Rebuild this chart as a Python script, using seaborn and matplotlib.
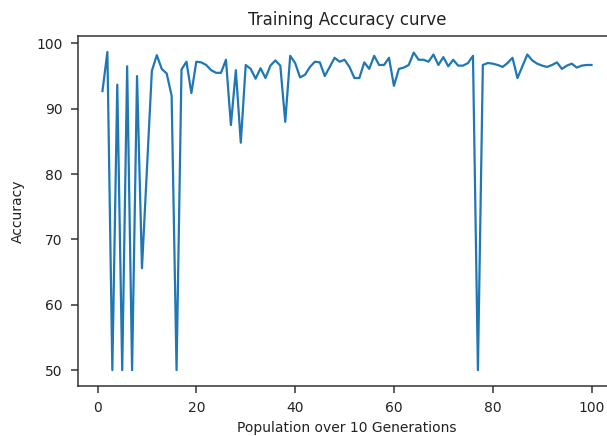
import matplotlib
matplotlib.use("Agg")
import matplotlib.pyplot as plt
import seaborn as sns
import pandas as pd

generation = list(range(1, 101))
accuracy = [
    92.7, 98.7, 50.0, 93.7, 50.0, 96.5, 50.0, 95.0, 65.6, 80.7,
    95.8, 98.2, 96.1, 95.4, 92.0, 50.0, 96.0, 97.2, 92.4, 97.2,
    97.1, 96.7, 95.9, 95.5, 95.5, 97.5, 87.5, 95.9, 84.8, 96.7,
    96.1, 94.6, 96.2, 94.7, 96.6, 97.4, 96.6, 88.0, 98.1, 97.0,
    94.8, 95.2, 96.4, 97.2, 97.1, 95.0, 96.4, 97.8, 97.2, 97.5,
    96.4, 94.7, 94.7, 97.1, 96.1, 98.1, 96.7, 96.7, 97.8, 93.5,
    96.1, 96.3, 96.7, 98.6, 97.5, 97.5, 97.2, 98.3, 96.7, 97.9,
    96.5, 97.5, 96.6, 96.6, 97.0, 98.1, 50.0, 96.7, 97.0, 96.9,
    96.7, 96.4, 97.0, 97.8, 94.7, 96.5, 98.3, 97.4, 96.9, 96.6,
    96.4, 96.7, 97.1, 96.1, 96.6, 96.9, 96.3, 96.6, 96.7, 96.7,
]

df = pd.DataFrame({"Population": generation, "Accuracy": accuracy})

W, H = 607, 436
fig = plt.figure(figsize=(W / 100, H / 100), dpi=100)
ax = fig.add_axes([78 / W, 50 / H, (616 - 78) / W, 350 / H])

sns.lineplot(data=df, x="Population", y="Accuracy", ax=ax, color="#1f77b4", linewidth=1.6)

for s in ax.spines.values():
    s.set_color("#333333")
    s.set_linewidth(1.1)

ax.set_title("Training Accuracy curve", fontsize=12, pad=8, color="#222222")
ax.set_xlabel("Population over 10 Generations", fontsize=10, labelpad=4, color="#222222")
ax.set_ylabel("Accuracy", fontsize=10, labelpad=8, color="#222222")
ax.tick_params(labelsize=10, length=5, pad=6, width=1.1, colors="#333333", labelcolor="#222222")
ax.set_xticks([0, 20, 40, 60, 80, 100])
ax.set_yticks([50, 60, 70, 80, 90, 100])

fig.savefig("out.png", dpi=100)
